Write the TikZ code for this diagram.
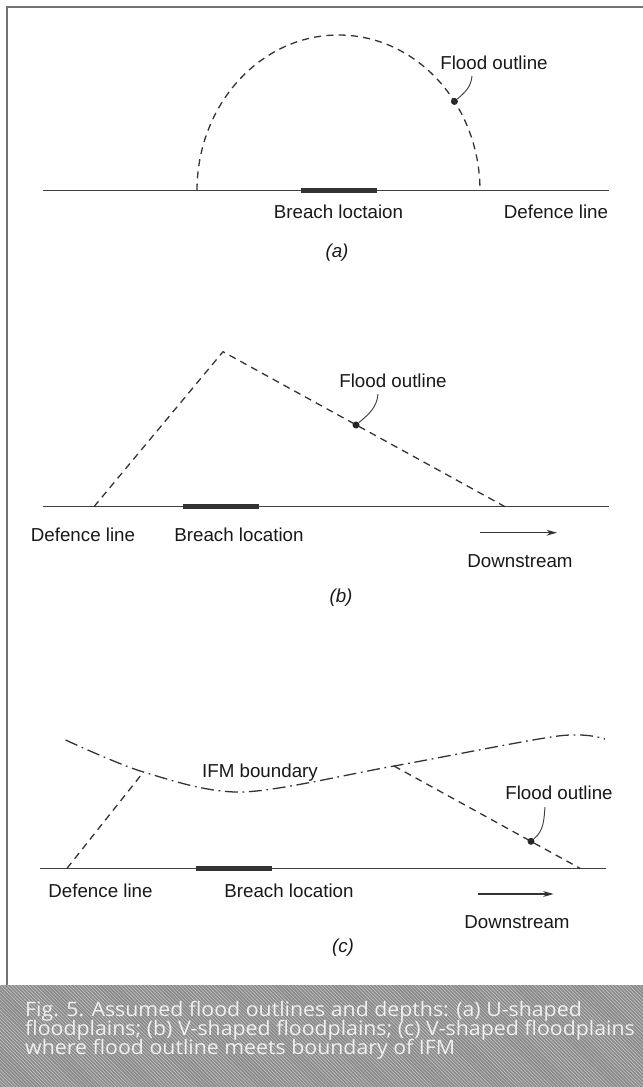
\documentclass[tikz,border=0pt]{standalone}
\usepackage{fontspec}
\setmainfont{Liberation Sans}
\newfontfamily\capfont[FakeStretch=1.07]{Open Sans}
\usetikzlibrary{arrows.meta,patterns}

\begin{document}
\begin{tikzpicture}[x=0.03cm,y=-0.03cm,
		defence/.style={line width=1.2pt,black!75},
		breach/.style={line width=4pt,black!80},
		flood/.style={line width=1.1pt,black!80,dash pattern=on 6pt off 4.5pt},
		ifm/.style={line width=1.1pt,black!80,dash pattern=on 11pt off 4pt on 1.5pt off 4pt},
		pointer/.style={line width=0.8pt,black!75},
		flow/.style={line width=0.9pt,black!80,-{Stealth[length=9pt,width=5pt]}},
		dot/.style={circle,fill=black!85,inner sep=0pt,minimum size=6pt},
		lbl/.style={inner sep=0pt,anchor=base,text=black!90,font=\fontsize{16}{19}\selectfont},
		captxt/.style={inner sep=0pt,anchor=base west,text=white!94!black,font=\capfont\fontsize{17}{19}\selectfont}]
	\useasboundingbox (0,0) rectangle (643,1087);
	\fill[white] (0,0) rectangle (643,1087);
	\draw[line width=1.5pt,black!55] (643,7) -- (7,7) -- (7,985);

	\coordinate (aW)	at (43,190.7);
	\coordinate (aE)	at (609,190.7);
	\coordinate (aB1)	at (301,190.7);
	\coordinate (aB2)	at (376.5,190.7);
	\coordinate (aL)	at (197,190.7);
	\coordinate (aTop)	at (338.5,35);
	\coordinate (aR)	at (480,190.7);
	\coordinate (aTip)	at (472,76);
	\node[dot]	(aDot)		at (454.4,101.4)	{};
	\node[lbl]	(aFlood)	at (494,69)		{Flood outline};
	\node[lbl]	(aBreach)	at (338.5,218)	{Breach loctaion};
	\node[lbl]	(aDef)		at (556,218)	{Defence line};
	\node[lbl]	(aName)		at (337,257.6)	{\itshape (a)};

	\draw[defence] (aW) -- (aE);
	\draw[breach] (aB1) -- (aB2);
	\draw[flood] (aL) .. controls +(0,-86) and +(-78.1,0) .. (aTop) .. controls +(78.1,0) and +(0,-86) .. (aR);
	\draw[pointer] (aTip) to[out=-95,in=40] (aDot);

	\coordinate (bW)	at (43,506.7);
	\coordinate (bE)	at (609,506.7);
	\coordinate (bB1)	at (183,506.7);
	\coordinate (bB2)	at (259,506.7);
	\coordinate (bL)	at (94,506.7);
	\coordinate (bTop)	at (223,351.7);
	\coordinate (bR)	at (505,506.7);
	\coordinate (bTip)	at (378,394);
	\coordinate (bA1)	at (480,532.7);
	\coordinate (bA2)	at (557,532.7);
	\node[dot]	(bDot)		at (356,425)	{};
	\node[lbl]	(bFlood)	at (393,387)	{Flood outline};
	\node[lbl]	(bDef)		at (83,541)		{Defence line};
	\node[lbl]	(bBreach)	at (239,541)	{Breach location};
	\node[lbl]	(bDown)		at (520,567)	{Downstream};
	\node[lbl]	(bName)		at (341,602.6)	{\itshape (b)};

	\draw[defence] (bW) -- (bE);
	\draw[breach] (bB1) -- (bB2);
	\draw[flood] (bL) -- (bTop) -- (bR);
	\draw[pointer] (bTip) to[out=-95,in=40] (bDot);
	\draw[flow] (bA1) -- (bA2);

	\coordinate (cW)	at (40,868.3);
	\coordinate (cE)	at (606,868.3);
	\coordinate (cB1)	at (196,868.3);
	\coordinate (cB2)	at (271.5,868.3);
	\coordinate (cL)	at (67,868.3);
	\coordinate (cR)	at (580,868.3);
	\coordinate (cX1)	at (143.5,772);
	\coordinate (cX2)	at (394,766);
	\coordinate (cI0)	at (65.6,740);
	\coordinate (cI1)	at (242,792);
	\coordinate (cI2)	at (558,736);
	\coordinate (cI3)	at (605,739);
	\coordinate (cTip)	at (545,807);
	\coordinate (cA1)	at (478,894);
	\coordinate (cA2)	at (553.6,894);
	\node[dot]	(cDot)		at (531,841.3)	{};
	\node[lbl]	(cIfm)		at (260,777)	{IFM boundary};
	\node[lbl]	(cFlood)	at (559,799)	{Flood outline};
	\node[lbl]	(cDef)		at (100.5,897)	{Defence line};
	\node[lbl]	(cBreach)	at (289,897)	{Breach location};
	\node[lbl]	(cDown)		at (517,928)	{Downstream};
	\node[lbl]	(cName)		at (343,952)	{\itshape (c)};

	\draw[defence] (cW) -- (cE);
	\draw[breach] (cB1) -- (cB2);
	\draw[ifm] plot[smooth] coordinates {(cI0) (cX1) (cI1) (cX2) (cI2) (cI3)};
	\draw[flood] (cL) -- (cX1);
	\draw[flood] (cX2) -- (cR);
	\draw[pointer] (cTip) to[out=-95,in=40] (cDot);
	\draw[flow] (cA1) -- (cA2);

	\fill[black!45] (0,985) rectangle (643,1087);
	\fill[pattern=north west lines,pattern color=black!22] (0,985) rectangle (643,1087);
	\node[captxt] (cap1) at (25,1016) {Fig. 5. Assumed flood outlines and depths: (a) U-shaped};
	\node[captxt] (cap2) at (25,1035) {floodplains; (b) V-shaped floodplains; (c) V-shaped floodplains};
	\node[captxt] (cap3) at (25,1054) {where flood outline meets boundary of IFM};
\end{tikzpicture}
\end{document}
